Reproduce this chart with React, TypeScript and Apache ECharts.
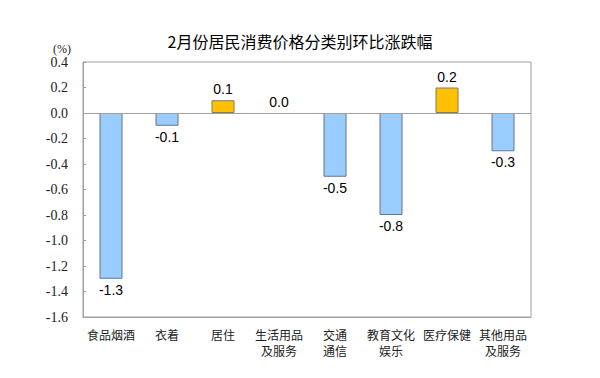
import React, { useEffect, useRef } from "react";
import * as echarts from "echarts";

const categories = ["食品烟酒", "衣着", "居住", "生活用品\n及服务", "交通\n通信", "教育文化\n娱乐", "医疗保健", "其他用品\n及服务"];
const values = [-1.3, -0.1, 0.1, 0.0, -0.5, -0.8, 0.2, -0.3];
const titleText = "2月份居民消费价格分类别环比涨跌幅";
const unitText = "(%)";

export default function App() {
  const ref = useRef<HTMLDivElement>(null);
  useEffect(() => {
    if (!ref.current) return;
    const chart = echarts.init(ref.current, undefined, { renderer: "svg" });
    chart.setOption({
      animation: false,
      title: {
        text: titleText,
        left: 295,
        textAlign: "center",
        top: 28,
        textStyle: { fontSize: 16, fontWeight: "normal", color: "#000", fontFamily: "Noto Sans CJK SC" },
      },
      grid: { left: 83, right: 69, top: 62, bottom: 61, show: true, borderColor: "#a0a0a0", borderWidth: 1, backgroundColor: "transparent" },
      xAxis: {
        type: "category",
        data: categories,
        axisLine: { onZero: false, lineStyle: { color: "#a0a0a0" } },
        axisTick: { show: false },
        axisLabel: { interval: 0, color: "#222", fontSize: 12, lineHeight: 16, margin: 9, fontFamily: "Noto Sans CJK SC" },
      },
      yAxis: {
        type: "value",
        min: -1.6,
        max: 0.4,
        interval: 0.2,
        name: unitText,
        nameLocation: "end",
        nameGap: 7,
        nameTextStyle: { color: "#222", fontSize: 12, fontFamily: "Liberation Serif", align: "right", padding: [0, 12, 0, 0] },
        axisLine: { show: true, lineStyle: { color: "#a0a0a0" } },
        axisTick: { show: true, inside: true, length: 3, lineStyle: { color: "#a0a0a0" } },
        splitLine: { show: false },
        axisLabel: {
          color: "#222",
          fontSize: 14,
          fontFamily: "Liberation Serif",
          margin: 15,
          formatter: (v: number) => v.toFixed(1),
        },
      },
      series: [
        {
          type: "bar",
          barWidth: 23,
          data: values.map((v) => ({
            value: v,
            itemStyle: {
              color: v > 0 ? "#FFC000" : "#99CCFF",
              borderColor: v > 0 ? "#8a7a50" : "#6a7480",
              borderWidth: v === 0 ? 0 : 1,
            },
            label: {
              show: true,
              position: v < 0 ? "bottom" : "top",
              distance: 4,
              formatter: () => v.toFixed(1),
              color: "#000",
              fontSize: 14,
              fontFamily: "Liberation Sans",
            },
          })),
          markLine: {
            silent: true,
            symbol: "none",
            label: { show: false },
            lineStyle: { color: "#a0a0a0", type: "solid", width: 1 },
            data: [{ yAxis: 0 }],
          },
        },
      ],
    });
    return () => chart.dispose();
  }, []);
  return <div ref={ref} style={{ width: 600, height: 378, margin: -8 }} />;
}
